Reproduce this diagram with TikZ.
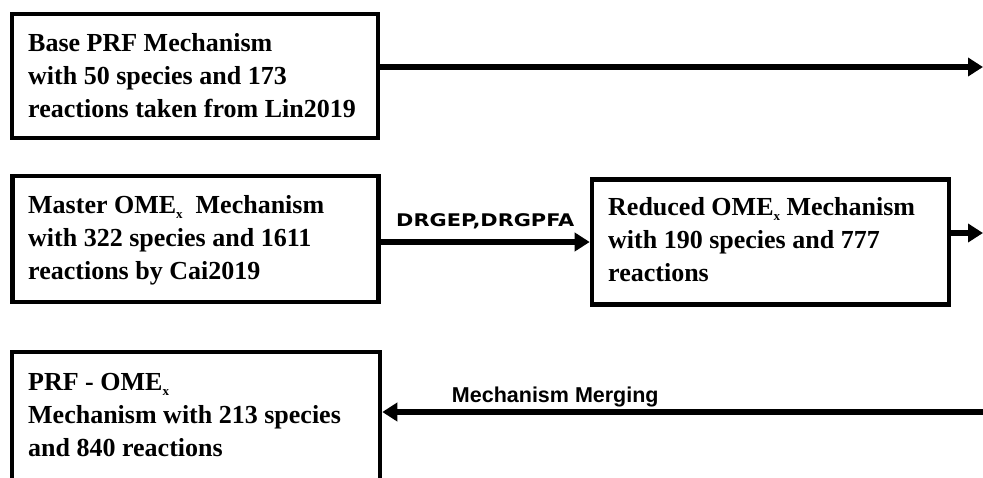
\documentclass[tikz,border=0pt]{standalone}
\usepackage{graphicx}
\usepackage{fontspec}
\setmainfont{Liberation Serif}
\newfontfamily\dejavuf{DejaVu Sans}
\newfontfamily\arialf{Liberation Sans}
\usetikzlibrary{arrows.meta}
\newcommand{\subx}{\raisebox{-5pt}{\fontsize{13}{13}\selectfont x}}
\begin{document}
\begin{tikzpicture}[x=1pt,y=-1pt,
  mbox/.style={draw, line width=4.6pt, rectangle, inner sep=0pt},
  mtext/.style={inner sep=0pt, align=left, anchor=north west,
    font=\bfseries\fontsize{26}{33}\selectfont},
  conn/.style={line width=5.2pt, -{Triangle[length=15pt,width=18pt]}},
  slabel/.style={inner sep=0pt, anchor=base, font=\dejavuf\bfseries\fontsize{17.4}{20}\selectfont},
  alabel/.style={inner sep=0pt, anchor=base, font=\arialf\bfseries\fontsize{21.5}{24}\selectfont}]
\useasboundingbox[fill=white] (0,0) rectangle (983,477);

\node[mbox, minimum width=366, minimum height=124] (base) at (195,76) {};
\node[mtext] (basetext) at (28,33.4)
  {Base PRF Mechanism\\with 50 species and 173\\reactions taken from Lin2019};
\node[mbox, minimum width=366, minimum height=126] (master) at (195.5,239) {};
\node[mtext] (mastertext) at (28,195.4)
  {Master OME\subx{}\ \ Mechanism\\with 322 species and 1611\\reactions by Cai2019};
\node[mbox, minimum width=357, minimum height=125] (reduced) at (770.5,242) {};
\node[mtext] (reducedtext) at (608,197.4)
  {Reduced OME\subx{} Mechanism\\with 190 species and 777\\reactions};
\node[mbox, minimum width=368, minimum height=160] (prf) at (196,432) {};
\node[mtext] (prftext) at (28,372.8)
  {PRF - OME\subx\\Mechanism with 213 species\\and 840 reactions};

\coordinate (t1) at (983,67);
\coordinate (t2) at (983,233);
\coordinate (t3) at (983,412);

\draw[conn] (base.east |- t1) -- (t1);
\draw[conn] (master.east |- reduced.west) -- (reduced.west)
  node[slabel, midway, yshift=16pt] (lab1) {\scalebox{1.2}[1]{DRGEP,DRGPFA}};
\draw[conn] (reduced.east |- t2) -- (t2);
\draw[conn] (t3) -- (prf.east |- t3)
  node[alabel, pos=0.712, yshift=10pt] (lab2) {Mechanism Merging};
\end{tikzpicture}
\end{document}
